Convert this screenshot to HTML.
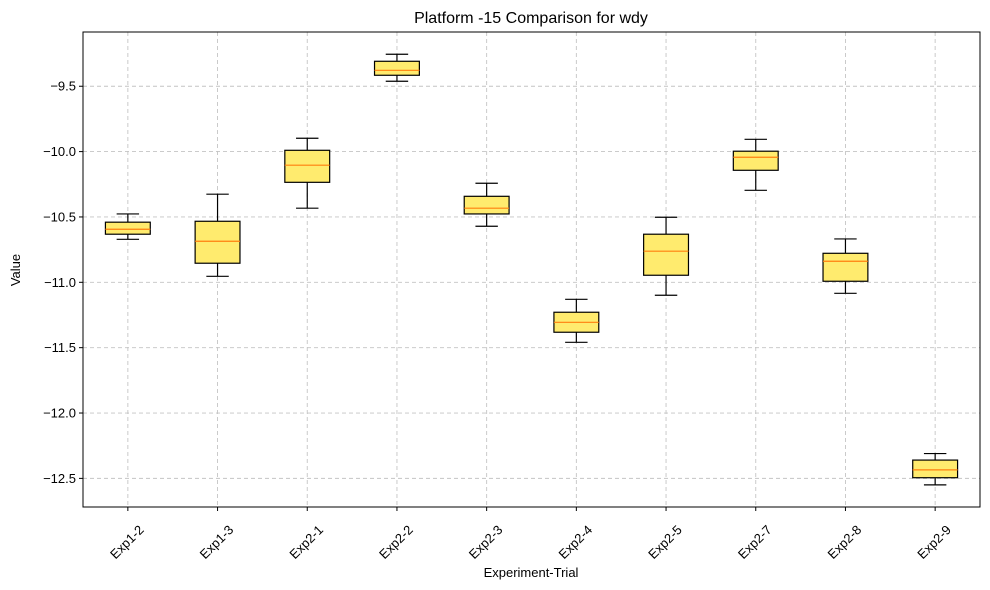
<!DOCTYPE html>
<html><head><meta charset="utf-8"><style>
body{margin:0;background:#fff;}
svg{display:block;font-family:"Liberation Sans","DejaVu Sans",sans-serif;}
</style></head><body>
<svg id="chart" width="990" height="590" viewBox="0 0 990 590" xmlns="http://www.w3.org/2000/svg"></svg>
<script>
const categories=["Exp1-2","Exp1-3","Exp2-1","Exp2-2","Exp2-3","Exp2-4","Exp2-5","Exp2-7","Exp2-8","Exp2-9"];
const whiskerHigh=[-10.477,-10.326,-9.898,-9.255,-10.242,-11.13,-10.502,-9.906,-10.668,-12.31];
const q3Values=[-10.54,-10.533,-9.99,-9.309,-10.342,-11.229,-10.632,-9.997,-10.778,-12.36];
const medianValues=[-10.594,-10.686,-10.104,-9.378,-10.433,-11.306,-10.762,-10.043,-10.839,-12.435];
const q1Values=[-10.632,-10.854,-10.235,-9.416,-10.477,-11.382,-10.946,-10.143,-10.992,-12.495];
const whiskerLow=[-10.671,-10.954,-10.433,-9.462,-10.571,-11.459,-11.099,-10.296,-11.084,-12.55];
const yTicks=[-9.5,-10.0,-10.5,-11.0,-11.5,-12.0,-12.5];
const yTickLabels=["−9.5","−10.0","−10.5","−11.0","−11.5","−12.0","−12.5"];

const svg=document.getElementById('chart');
const NS='http://www.w3.org/2000/svg';
const L=83,R=980,T=32,B=507;
const yMin=-12.719,yMax=-9.085;
const y=v=>T+(yMax-v)/(yMax-yMin)*(B-T);
const x=i=>L+(i+0.5)*(R-L)/categories.length;
const unit=(R-L)/categories.length;
function mk(tag,attrs,parent){const e=document.createElementNS(NS,tag);for(const k in attrs)e.setAttribute(k,attrs[k]);(parent||svg).appendChild(e);return e;}

const grid=mk('g',{});


yTicks.forEach(v=>{mk('line',{x1:L,x2:R,y1:y(v),y2:y(v),stroke:'#c4c4c4','stroke-dasharray':'4,3','stroke-width':0.9},grid);});
categories.forEach((c,i)=>{mk('line',{x1:x(i),x2:x(i),y1:T,y2:B,stroke:'#c4c4c4','stroke-dasharray':'4,3','stroke-width':0.9},grid);});

categories.forEach((c,i)=>{
  const g=mk('g',{});
  
  
  const cx=x(i),bw=unit*0.5,cw=unit*0.25;
  mk('line',{x1:cx,x2:cx,y1:y(whiskerHigh[i]),y2:y(q3Values[i]),stroke:'#000','stroke-width':1.2},g);
  mk('line',{x1:cx,x2:cx,y1:y(q1Values[i]),y2:y(whiskerLow[i]),stroke:'#000','stroke-width':1.2},g);
  mk('line',{x1:cx-cw/2,x2:cx+cw/2,y1:y(whiskerHigh[i]),y2:y(whiskerHigh[i]),stroke:'#000','stroke-width':1.2},g);
  mk('line',{x1:cx-cw/2,x2:cx+cw/2,y1:y(whiskerLow[i]),y2:y(whiskerLow[i]),stroke:'#000','stroke-width':1.2},g);
  mk('rect',{x:cx-bw/2,y:y(q3Values[i]),width:bw,height:y(q1Values[i])-y(q3Values[i]),fill:'#ffeb6e',stroke:'#000','stroke-width':1.2},g);
  mk('line',{x1:cx-bw/2,x2:cx+bw/2,y1:y(medianValues[i]),y2:y(medianValues[i]),stroke:'#ff7f0e','stroke-width':1.2},g);
});

const frame=mk('rect',{x:L,y:T,width:R-L,height:B-T,fill:'none',stroke:'#000','stroke-width':1});



const ya=mk('g',{});


yTicks.forEach((v,k)=>{
  mk('line',{x1:L-4,x2:L,y1:y(v),y2:y(v),stroke:'#000'},ya);
  const t=mk('text',{x:L-7,y:y(v)+4.5,'text-anchor':'end','font-size':13},ya);
  t.textContent=yTickLabels[k];
});
const xa=mk('g',{});


categories.forEach((c,i)=>{
  mk('line',{x1:x(i),x2:x(i),y1:B,y2:B+4,stroke:'#000'},xa);
  const tx=x(i)-1,ty=B+35;
  const t=mk('text',{x:tx,y:ty+4.5,'text-anchor':'middle','font-size':13,transform:`rotate(-45 ${tx} ${ty})`},xa);
  t.textContent=c;
});
</script>
<svg style="position:absolute;left:0;top:0" width="990" height="590" xmlns="http://www.w3.org/2000/svg" font-family="Liberation Sans, DejaVu Sans, sans-serif">
<text x="531" y="23" text-anchor="middle" font-size="16">Platform -15 Comparison for wdy</text>
<text x="20" y="270" text-anchor="middle" font-size="13" transform="rotate(-90 20 270)">Value</text>
<text x="531" y="577" text-anchor="middle" font-size="13">Experiment-Trial</text>
</svg>
</body></html>
